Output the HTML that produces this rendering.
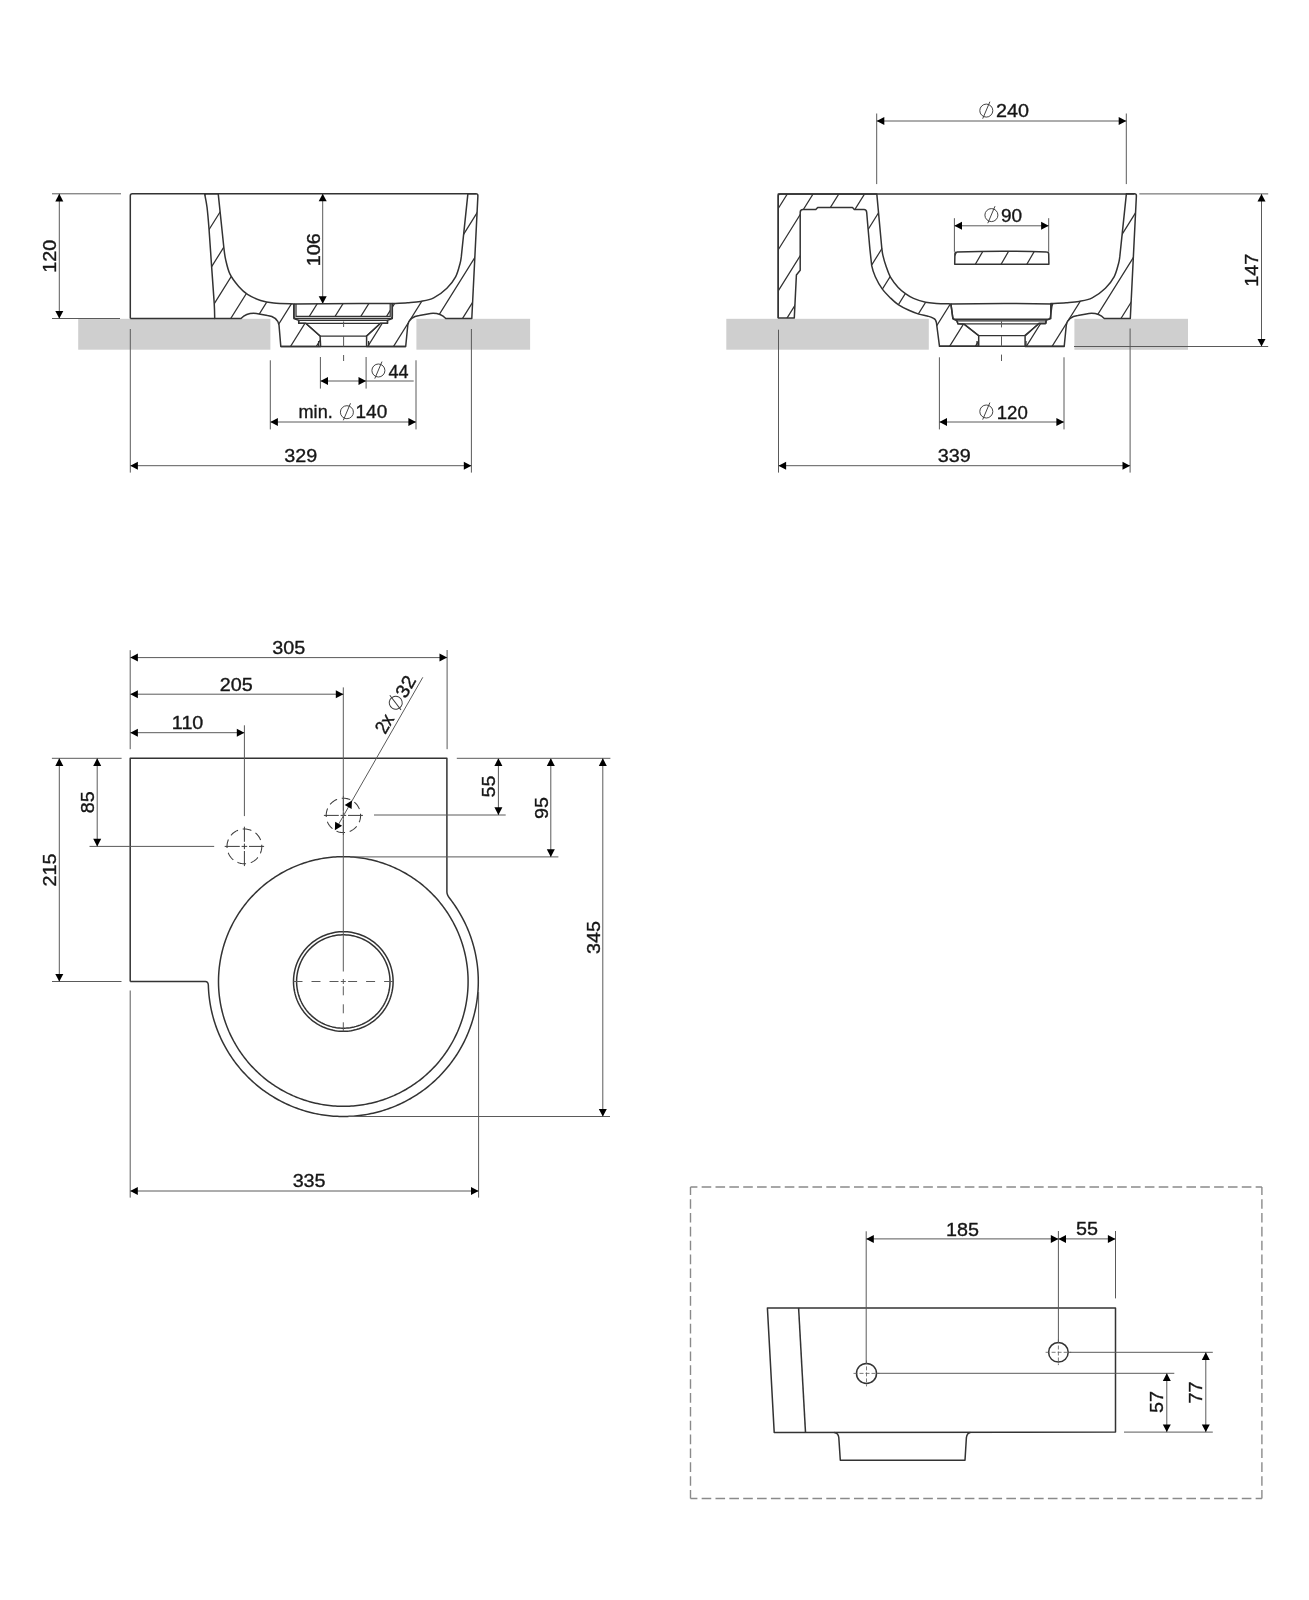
<!DOCTYPE html>
<html><head><meta charset="utf-8"><style>
html,body{margin:0;padding:0;background:#fff;}
svg{display:block;will-change:transform;}
text{font-family:"Liberation Sans",sans-serif;fill:#161616;stroke:#161616;stroke-width:0.35px;}
</style></head><body>
<svg width="1309" height="1600" viewBox="0 0 1309 1600">
<rect x="78.2" y="318.8" width="192.2" height="30.9" fill="#cfcfcf"/>
<rect x="416.4" y="318.8" width="113.7" height="30.9" fill="#cfcfcf"/>
<rect x="726.3" y="318.8" width="202.5" height="30.9" fill="#cfcfcf"/>
<rect x="1074.4" y="318.8" width="113.6" height="31" fill="#cfcfcf"/>
<clipPath id="c1"><path d="M204.6,193.7 L218.2,193.7 L223.9,248 C224.32,251.15 224.58,255.03 225.6,259.4 C226.62,263.77 227.82,269.68 230,274.2 C232.18,278.72 235.78,283.13 238.7,286.5 C241.62,289.87 243.85,292.07 247.5,294.4 C251.15,296.73 256.23,299.05 260.6,300.5 C264.97,301.95 268.15,302.52 273.7,303.1 C279.25,303.68 290.53,303.85 293.9,304 L293.9,318.5 L298.7,320.4 L298.7,323.3 L305.7,323.3 L320.1,336 L320.6,346.5 L280.8,346.5 L279,325 C277.5,318.5 273,316.2 267.5,315.6 L259,313.9 C252,312.5 246,313.5 241,318.5 L214.7,318.5 C214.62,315.93 214.72,311.78 214.2,303.1 C213.68,294.42 212.47,278.8 211.6,266.4 C210.73,254 209.77,238.6 209,228.7 C208.23,218.8 207.73,212.83 207,207 C206.27,201.17 205,195.92 204.6,193.7 Z"/></clipPath>
<g><path clip-path="url(#c1)" d="M156.55,190L56.55,350M182.3,190L82.3,350M208.05,190L108.05,350M233.8,190L133.8,350M259.55,190L159.55,350M285.3,190L185.3,350M311.05,190L211.05,350M336.8,190L236.8,350M362.55,190L262.55,350M388.3,190L288.3,350M414.05,190L314.05,350M439.8,190L339.8,350M465.55,190L365.55,350" stroke="#333" stroke-width="1.25" fill="none"/></g>
<clipPath id="c2"><path d="M392.3,303.6 L392.3,318.5 L387.5,320.4 L387.5,323.3 L380.5,323.3 L366.6,336 L366.6,346.5 L405.7,346.5 L407.8,325 C409.3,318.5 413.8,316.2 419.3,315.6 L427.8,313.9 C434.8,312.5 440.8,313.5 445.8,318.5 L471.8,318.5 L477.9,195.7 Q477.9,193.7 475.9,193.7 L467.9,193.7 L461.3,256.7 C460.96,259.07 460.95,260.33 460,263.7 C459.05,267.07 457.78,272.82 455.6,276.9 C453.42,280.98 450.55,284.7 446.9,288.2 C443.25,291.7 438.08,295.7 433.7,297.9 C429.32,300.1 424.97,300.6 420.6,301.4 C416.23,302.2 412.22,302.33 407.5,302.7 C402.78,303.07 394.83,303.45 392.3,303.6 Z"/></clipPath>
<g><path clip-path="url(#c2)" d="M311.05,190L211.05,350M336.8,190L236.8,350M362.55,190L262.55,350M388.3,190L288.3,350M414.05,190L314.05,350M439.8,190L339.8,350M465.55,190L365.55,350M491.3,190L391.3,350M517.05,190L417.05,350M542.8,190L442.8,350M568.55,190L468.55,350M594.3,190L494.3,350M620.05,190L520.05,350" stroke="#333" stroke-width="1.25" fill="none"/></g>
<clipPath id="c3"><path d="M296,303.6 L390.2,303.6 L390.2,316.4 L296,316.4 Z"/></clipPath>
<g><path clip-path="url(#c3)" d="M242.3,300L229.8,320M268.05,300L255.55,320M293.8,300L281.3,320M319.55,300L307.05,320M345.3,300L332.8,320M371.05,300L358.55,320M396.8,300L384.3,320M422.55,300L410.05,320M448.3,300L435.8,320" stroke="#333" stroke-width="1.25" fill="none"/></g>
<path d="M204.6,193.7 L218.2,193.7 L223.9,248 C224.32,251.15 224.58,255.03 225.6,259.4 C226.62,263.77 227.82,269.68 230,274.2 C232.18,278.72 235.78,283.13 238.7,286.5 C241.62,289.87 243.85,292.07 247.5,294.4 C251.15,296.73 256.23,299.05 260.6,300.5 C264.97,301.95 268.15,302.52 273.7,303.1 C279.25,303.68 290.53,303.85 293.9,304 L293.9,318.5 L298.7,320.4 L298.7,323.3 L305.7,323.3 L320.1,336 L320.6,346.5 L280.8,346.5 L279,325 C277.5,318.5 273,316.2 267.5,315.6 L259,313.9 C252,312.5 246,313.5 241,318.5 L214.7,318.5 C214.62,315.93 214.72,311.78 214.2,303.1 C213.68,294.42 212.47,278.8 211.6,266.4 C210.73,254 209.77,238.6 209,228.7 C208.23,218.8 207.73,212.83 207,207 C206.27,201.17 205,195.92 204.6,193.7 Z" stroke="#333" stroke-width="1.5" fill="none" stroke-linejoin="round"/>
<path d="M392.3,303.6 L392.3,318.5 L387.5,320.4 L387.5,323.3 L380.5,323.3 L366.6,336 L366.6,346.5 L405.7,346.5 L407.8,325 C409.3,318.5 413.8,316.2 419.3,315.6 L427.8,313.9 C434.8,312.5 440.8,313.5 445.8,318.5 L471.8,318.5 L477.9,195.7 Q477.9,193.7 475.9,193.7 L467.9,193.7 L461.3,256.7 C460.96,259.07 460.95,260.33 460,263.7 C459.05,267.07 457.78,272.82 455.6,276.9 C453.42,280.98 450.55,284.7 446.9,288.2 C443.25,291.7 438.08,295.7 433.7,297.9 C429.32,300.1 424.97,300.6 420.6,301.4 C416.23,302.2 412.22,302.33 407.5,302.7 C402.78,303.07 394.83,303.45 392.3,303.6 Z" stroke="#333" stroke-width="1.5" fill="none" stroke-linejoin="round"/>
<path d="M130.3,318.5 L130.3,195.7 Q130.3,193.7 132.3,193.7 L475.9,193.7" stroke="#333" stroke-width="1.5" fill="none" stroke-linejoin="round"/>
<line x1="130.3" y1="318.5" x2="215" y2="318.5" stroke="#333" stroke-width="1.5" fill="none" stroke-linejoin="round"/>
<path d="M293.9,304 C330,303.4 360,303.4 392.3,303.6" stroke="#333" stroke-width="1.5" fill="none" stroke-linejoin="round"/>
<path d="M293.9,304 L293.9,316.5 Q293.9,318.5 295.9,318.5 L390.3,318.5 Q392.3,318.5 392.3,316.5 L392.3,303.6" stroke="#333" stroke-width="1.5" fill="none" stroke-linejoin="round"/>
<path d="M296,304 L296,316.4 L390.2,316.4 L390.2,303.6" stroke="#333" stroke-width="1.25" fill="none"/>
<path d="M298.7,320.4 L387.5,320.4 L387.5,323.3 L298.7,323.3 Z" stroke="#333" stroke-width="1.25" fill="none"/>
<path d="M305.7,323.3 L320.1,336 L366.6,336 L380.5,323.3" stroke="#333" stroke-width="1.25" fill="none"/>
<path d="M318.6,341 L318.6,346.5 M368.6,341 L368.6,346.5" stroke="#333" stroke-width="1.25" fill="none"/>
<path d="M280.8,346.5 L405.7,346.5" stroke="#333" stroke-width="1.5" fill="none" stroke-linejoin="round"/>
<line x1="343.6" y1="321.5" x2="343.6" y2="327" stroke="#5a5a5a" stroke-width="1" fill="none"/>
<line x1="343.6" y1="336" x2="343.6" y2="346.5" stroke="#5a5a5a" stroke-width="1" fill="none"/>
<line x1="343.6" y1="355" x2="343.6" y2="361" stroke="#5a5a5a" stroke-width="1" fill="none"/>
<line x1="52" y1="193.8" x2="121" y2="193.8" stroke="#5a5a5a" stroke-width="1" fill="none"/>
<line x1="52" y1="318.5" x2="120" y2="318.5" stroke="#5a5a5a" stroke-width="1" fill="none"/>
<line x1="59.3" y1="193.8" x2="59.3" y2="318.5" stroke="#5a5a5a" stroke-width="1" fill="none"/>
<path d="M59.3,193.8 L63.3,201.4 L55.3,201.4 Z" fill="#000"/>
<path d="M59.3,318.5 L55.3,310.9 L63.3,310.9 Z" fill="#000"/>
<text transform="translate(56 256.3) rotate(-90) scale(1.04 1)" text-anchor="middle" font-size="19">120</text>
<line x1="322.7" y1="193.7" x2="322.7" y2="303.8" stroke="#5a5a5a" stroke-width="1" fill="none"/>
<path d="M322.7,193.7 L326.7,201.3 L318.7,201.3 Z" fill="#000"/>
<path d="M322.7,303.8 L318.7,296.2 L326.7,296.2 Z" fill="#000"/>
<text transform="translate(320 249.8) rotate(-90) scale(1.04 1)" text-anchor="middle" font-size="19">106</text>
<line x1="130.3" y1="329" x2="130.3" y2="472.6" stroke="#5a5a5a" stroke-width="1" fill="none"/>
<line x1="471.4" y1="329" x2="471.4" y2="472.6" stroke="#5a5a5a" stroke-width="1" fill="none"/>
<line x1="130.3" y1="465.7" x2="471.4" y2="465.7" stroke="#5a5a5a" stroke-width="1" fill="none"/>
<path d="M130.3,465.7 L137.9,461.7 L137.9,469.7 Z" fill="#000"/>
<path d="M471.4,465.7 L463.8,469.7 L463.8,461.7 Z" fill="#000"/>
<text transform="translate(300.7 461.6) rotate(0) scale(1.04 1)" text-anchor="middle" font-size="19">329</text>
<line x1="270.3" y1="360.3" x2="270.3" y2="429.4" stroke="#5a5a5a" stroke-width="1" fill="none"/>
<line x1="416" y1="360.3" x2="416" y2="429.4" stroke="#5a5a5a" stroke-width="1" fill="none"/>
<line x1="270.3" y1="422" x2="416" y2="422" stroke="#5a5a5a" stroke-width="1" fill="none"/>
<path d="M270.3,422 L277.9,418 L277.9,426 Z" fill="#000"/>
<path d="M416,422 L408.4,426 L408.4,418 Z" fill="#000"/>
<text transform="translate(298.6 418.4) rotate(0) scale(0.95 1)" text-anchor="start" font-size="19">min.</text>
<g transform="translate(346.9 412.2) rotate(0)"><circle cx="0" cy="0" r="6.5" stroke="#3a3a3a" stroke-width="0.95" fill="none"/><line x1="3.6" y1="-8.9" x2="-3.6" y2="8.1" stroke="#3a3a3a" stroke-width="0.95"/></g>
<text transform="translate(355.5 418.4) rotate(0) scale(1.0 1)" text-anchor="start" font-size="19">140</text>
<line x1="320.4" y1="357" x2="320.4" y2="388.6" stroke="#5a5a5a" stroke-width="1" fill="none"/>
<line x1="366.1" y1="357" x2="366.1" y2="388.6" stroke="#5a5a5a" stroke-width="1" fill="none"/>
<line x1="320.4" y1="381" x2="366.1" y2="381" stroke="#5a5a5a" stroke-width="1" fill="none"/>
<path d="M320.4,381 L328,377 L328,385 Z" fill="#000"/>
<path d="M366.1,381 L358.5,385 L358.5,377 Z" fill="#000"/>
<line x1="366.1" y1="381" x2="413.7" y2="381" stroke="#5a5a5a" stroke-width="1" fill="none"/>
<g transform="translate(378.4 370.5) rotate(0)"><circle cx="0" cy="0" r="6.5" stroke="#3a3a3a" stroke-width="0.95" fill="none"/><line x1="3.6" y1="-8.9" x2="-3.6" y2="8.1" stroke="#3a3a3a" stroke-width="0.95"/></g>
<text transform="translate(388.5 377.5) rotate(0) scale(0.95 1)" text-anchor="start" font-size="19">44</text>
<clipPath id="c4"><path d="M778.25,193.9 L876.8,193.9 L881.8,248.2 C882.1,250.58 882.2,252.33 882.9,255.3 C883.6,258.27 884.72,262.32 886,266 C887.28,269.68 888.57,273.83 890.6,277.4 C892.63,280.97 895.67,284.65 898.2,287.4 C900.73,290.15 903.25,292.07 905.8,293.9 C908.35,295.73 910.18,297 913.5,298.4 C916.82,299.8 921.88,301.47 925.7,302.3 C929.52,303.13 932.2,303.13 936.4,303.4 C940.6,303.67 948.48,303.82 950.9,303.9 L952.9,318.8 L956.9,320.8 L957.9,323.8 L964.3,324.3 L978.7,335.7 L978.7,346.3 L939.5,346.3 L936.4,322.5 C935.25,317.77 934.13,318.98 932.6,317.9 C931.07,316.82 929.5,316.63 927.2,316 C924.9,315.37 921.85,315.05 918.8,314.1 C915.75,313.15 912.33,311.88 908.9,310.3 C905.47,308.72 901.25,306.63 898.2,304.6 C895.15,302.57 893.27,300.72 890.6,298.1 C887.93,295.48 884.75,292.47 882.2,288.9 C879.65,285.33 877.05,280.57 875.3,276.7 C873.55,272.83 872.6,270.28 871.7,265.7 L869.9,249.2 L868.1,229 L866.7,212.5 Q866.5,209.6 864,209.6 L854.3,209.4 L852.5,207.5 L817.7,207.5 L815.8,209.6 L803,209.6 Q800.2,209.6 800.2,212.5 L800.2,270.2 L796.4,275 L794.3,317.9 L778.25,317.9 Z"/></clipPath>
<g><path clip-path="url(#c4)" d="M738.3,190L638.3,350M764.05,190L664.05,350M789.8,190L689.8,350M815.55,190L715.55,350M841.3,190L741.3,350M867.05,190L767.05,350M892.8,190L792.8,350M918.55,190L818.55,350M944.3,190L844.3,350M970.05,190L870.05,350M995.8,190L895.8,350M1021.55,190L921.55,350M1047.3,190L947.3,350M1073.05,190L973.05,350M1098.8,190L998.8,350M1124.55,190L1024.55,350" stroke="#333" stroke-width="1.25" fill="none"/></g>
<clipPath id="c5"><path d="M392.3,303.6 L392.3,318.5 L387.5,320.4 L387.5,323.3 L380.5,323.3 L366.6,336 L366.6,346.5 L405.7,346.5 L407.8,325 C409.3,318.5 413.8,316.2 419.3,315.6 L427.8,313.9 C434.8,312.5 440.8,313.5 445.8,318.5 L471.8,318.5 L477.9,195.7 Q477.9,193.7 475.9,193.7 L467.9,193.7 L461.3,256.7 C460.96,259.07 460.95,260.33 460,263.7 C459.05,267.07 457.78,272.82 455.6,276.9 C453.42,280.98 450.55,284.7 446.9,288.2 C443.25,291.7 438.08,295.7 433.7,297.9 C429.32,300.1 424.97,300.6 420.6,301.4 C416.23,302.2 412.22,302.33 407.5,302.7 C402.78,303.07 394.83,303.45 392.3,303.6 Z"/></clipPath>
<g transform="translate(658.5 0)"><path clip-path="url(#c5)" d="M311.05,190L211.05,350M336.8,190L236.8,350M362.55,190L262.55,350M388.3,190L288.3,350M414.05,190L314.05,350M439.8,190L339.8,350M465.55,190L365.55,350M491.3,190L391.3,350M517.05,190L417.05,350M542.8,190L442.8,350M568.55,190L468.55,350M594.3,190L494.3,350M620.05,190L520.05,350" stroke="#333" stroke-width="1.25" fill="none"/></g>
<clipPath id="c6"><path d="M954.9,254 Q954.9,251.9 957,251.9 Q1001.5,250.6 1046.6,251.9 Q1048.7,251.9 1048.7,254 L1048.9,264.3 L954.7,264.3 Z"/></clipPath>
<g><path clip-path="url(#c6)" d="M907.5,248L895.94,268M933.25,248L921.69,268M959,248L947.44,268M984.75,248L973.19,268M1010.5,248L998.94,268M1036.25,248L1024.69,268M1062,248L1050.44,268M1087.75,248L1076.19,268" stroke="#333" stroke-width="1.25" fill="none"/></g>
<path d="M778.25,193.9 L876.8,193.9 L881.8,248.2 C882.1,250.58 882.2,252.33 882.9,255.3 C883.6,258.27 884.72,262.32 886,266 C887.28,269.68 888.57,273.83 890.6,277.4 C892.63,280.97 895.67,284.65 898.2,287.4 C900.73,290.15 903.25,292.07 905.8,293.9 C908.35,295.73 910.18,297 913.5,298.4 C916.82,299.8 921.88,301.47 925.7,302.3 C929.52,303.13 932.2,303.13 936.4,303.4 C940.6,303.67 948.48,303.82 950.9,303.9 L952.9,318.8 L956.9,320.8 L957.9,323.8 L964.3,324.3 L978.7,335.7 L978.7,346.3 L939.5,346.3 L936.4,322.5 C935.25,317.77 934.13,318.98 932.6,317.9 C931.07,316.82 929.5,316.63 927.2,316 C924.9,315.37 921.85,315.05 918.8,314.1 C915.75,313.15 912.33,311.88 908.9,310.3 C905.47,308.72 901.25,306.63 898.2,304.6 C895.15,302.57 893.27,300.72 890.6,298.1 C887.93,295.48 884.75,292.47 882.2,288.9 C879.65,285.33 877.05,280.57 875.3,276.7 C873.55,272.83 872.6,270.28 871.7,265.7 L869.9,249.2 L868.1,229 L866.7,212.5 Q866.5,209.6 864,209.6 L854.3,209.4 L852.5,207.5 L817.7,207.5 L815.8,209.6 L803,209.6 Q800.2,209.6 800.2,212.5 L800.2,270.2 L796.4,275 L794.3,317.9 L778.25,317.9 Z" stroke="#333" stroke-width="1.5" fill="none" stroke-linejoin="round"/>
<path d="M392.3,303.6 L392.3,318.5 L387.5,320.4 L387.5,323.3 L380.5,323.3 L366.6,336 L366.6,346.5 L405.7,346.5 L407.8,325 C409.3,318.5 413.8,316.2 419.3,315.6 L427.8,313.9 C434.8,312.5 440.8,313.5 445.8,318.5 L471.8,318.5 L477.9,195.7 Q477.9,193.7 475.9,193.7 L467.9,193.7 L461.3,256.7 C460.96,259.07 460.95,260.33 460,263.7 C459.05,267.07 457.78,272.82 455.6,276.9 C453.42,280.98 450.55,284.7 446.9,288.2 C443.25,291.7 438.08,295.7 433.7,297.9 C429.32,300.1 424.97,300.6 420.6,301.4 C416.23,302.2 412.22,302.33 407.5,302.7 C402.78,303.07 394.83,303.45 392.3,303.6 Z" stroke="#333" stroke-width="1.5" fill="none" stroke-linejoin="round" transform="translate(658.5 0)"/>
<path d="M954.9,254 Q954.9,251.9 957,251.9 Q1001.5,250.6 1046.6,251.9 Q1048.7,251.9 1048.7,254 L1048.9,264.3 L954.7,264.3 Z" stroke="#333" stroke-width="1.5" fill="none" stroke-linejoin="round"/>
<path d="M778.25,317.9 L778.25,195.9 Q778.25,193.9 780.25,193.9 L1134.4,193.9" stroke="#333" stroke-width="1.5" fill="none" stroke-linejoin="round"/>
<path d="M950.9,303.9 C990,303.4 1020,303.4 1052.2,303.9" stroke="#333" stroke-width="1.5" fill="none" stroke-linejoin="round"/>
<path d="M950.9,303.9 L952.7,317 Q953,319.3 955,319.3 L1048.3,319.3 Q1050.2,319.3 1050.4,317 L1052.2,303.9" stroke="#333" stroke-width="1.5" fill="none" stroke-linejoin="round"/>
<path d="M956.9,320.8 L1046.3,320.8 L1045.3,323.8 L957.9,323.8 Z" stroke="#333" stroke-width="1.25" fill="none"/>
<path d="M964.3,324.3 L978.7,335.7 L1024.4,335.7 L1038.3,324.3" stroke="#333" stroke-width="1.25" fill="none"/>
<path d="M977,341 L977,346.3 M1026,341 L1026,346.3" stroke="#333" stroke-width="1.25" fill="none"/>
<path d="M939.5,346.3 L1064.2,346.3" stroke="#333" stroke-width="1.5" fill="none" stroke-linejoin="round"/>
<line x1="1001.5" y1="321.3" x2="1001.5" y2="327.4" stroke="#5a5a5a" stroke-width="1" fill="none"/>
<line x1="1001.5" y1="336.2" x2="1001.5" y2="346.3" stroke="#5a5a5a" stroke-width="1" fill="none"/>
<line x1="1001.5" y1="354.6" x2="1001.5" y2="361" stroke="#5a5a5a" stroke-width="1" fill="none"/>
<line x1="876.7" y1="113.5" x2="876.7" y2="184.1" stroke="#5a5a5a" stroke-width="1" fill="none"/>
<line x1="1126.3" y1="113.5" x2="1126.3" y2="184.1" stroke="#5a5a5a" stroke-width="1" fill="none"/>
<line x1="876.7" y1="121" x2="1126.3" y2="121" stroke="#5a5a5a" stroke-width="1" fill="none"/>
<path d="M876.7,121 L884.3,117 L884.3,125 Z" fill="#000"/>
<path d="M1126.3,121 L1118.7,125 L1118.7,117 Z" fill="#000"/>
<g transform="translate(986.3 110.6) rotate(0)"><circle cx="0" cy="0" r="6.5" stroke="#3a3a3a" stroke-width="0.95" fill="none"/><line x1="3.6" y1="-8.9" x2="-3.6" y2="8.1" stroke="#3a3a3a" stroke-width="0.95"/></g>
<text transform="translate(996 116.7) rotate(0) scale(1.04 1)" text-anchor="start" font-size="19">240</text>
<line x1="954.4" y1="218.2" x2="954.4" y2="251.8" stroke="#5a5a5a" stroke-width="1" fill="none"/>
<line x1="1048.7" y1="218.2" x2="1048.7" y2="251.8" stroke="#5a5a5a" stroke-width="1" fill="none"/>
<line x1="954.4" y1="225.8" x2="1048.7" y2="225.8" stroke="#5a5a5a" stroke-width="1" fill="none"/>
<path d="M954.4,225.8 L962,221.8 L962,229.8 Z" fill="#000"/>
<path d="M1048.7,225.8 L1041.1,229.8 L1041.1,221.8 Z" fill="#000"/>
<g transform="translate(991.4 215.1) rotate(0)"><circle cx="0" cy="0" r="6.5" stroke="#3a3a3a" stroke-width="0.95" fill="none"/><line x1="3.6" y1="-8.9" x2="-3.6" y2="8.1" stroke="#3a3a3a" stroke-width="0.95"/></g>
<text transform="translate(1001 222.1) rotate(0) scale(1.0 1)" text-anchor="start" font-size="19">90</text>
<line x1="1139.3" y1="193.9" x2="1268.2" y2="193.9" stroke="#5a5a5a" stroke-width="1" fill="none"/>
<line x1="1074" y1="346.5" x2="1268.2" y2="346.5" stroke="#5a5a5a" stroke-width="1" fill="none"/>
<line x1="1261.5" y1="193.9" x2="1261.5" y2="346.5" stroke="#5a5a5a" stroke-width="1" fill="none"/>
<path d="M1261.5,193.9 L1265.5,201.5 L1257.5,201.5 Z" fill="#000"/>
<path d="M1261.5,346.5 L1257.5,338.9 L1265.5,338.9 Z" fill="#000"/>
<text transform="translate(1258 270.3) rotate(-90) scale(1.04 1)" text-anchor="middle" font-size="19">147</text>
<line x1="939.4" y1="357.3" x2="939.4" y2="429.4" stroke="#5a5a5a" stroke-width="1" fill="none"/>
<line x1="1064" y1="357.3" x2="1064" y2="429.4" stroke="#5a5a5a" stroke-width="1" fill="none"/>
<line x1="939.4" y1="422" x2="1064" y2="422" stroke="#5a5a5a" stroke-width="1" fill="none"/>
<path d="M939.4,422 L947,418 L947,426 Z" fill="#000"/>
<path d="M1064,422 L1056.4,426 L1056.4,418 Z" fill="#000"/>
<g transform="translate(986.3 411.5) rotate(0)"><circle cx="0" cy="0" r="6.5" stroke="#3a3a3a" stroke-width="0.95" fill="none"/><line x1="3.6" y1="-8.9" x2="-3.6" y2="8.1" stroke="#3a3a3a" stroke-width="0.95"/></g>
<text transform="translate(996.7 418.6) rotate(0) scale(0.98 1)" text-anchor="start" font-size="19">120</text>
<line x1="778.5" y1="329.7" x2="778.5" y2="472.6" stroke="#5a5a5a" stroke-width="1" fill="none"/>
<line x1="1130.1" y1="328.5" x2="1130.1" y2="472.6" stroke="#5a5a5a" stroke-width="1" fill="none"/>
<line x1="778.5" y1="465.7" x2="1130.1" y2="465.7" stroke="#5a5a5a" stroke-width="1" fill="none"/>
<path d="M778.5,465.7 L786.1,461.7 L786.1,469.7 Z" fill="#000"/>
<path d="M1130.1,465.7 L1122.5,469.7 L1122.5,461.7 Z" fill="#000"/>
<text transform="translate(954.3 461.6) rotate(0) scale(1.04 1)" text-anchor="middle" font-size="19">339</text>
<path d="M130.2,981.5 L130.2,758.3 L446.9,758.3 L446.9,891.94 Q446.9,894.94 450.58,899.54 L451.78,901.14 L452.96,902.76 L454.11,904.39 L455.24,906.04 L456.35,907.71 L457.43,909.4 L458.49,911.09 L459.52,912.81 L460.52,914.54 L461.5,916.28 L462.46,918.04 L463.38,919.82 L464.28,921.6 L465.16,923.4 L466.01,925.21 L466.83,927.04 L467.62,928.87 L468.39,930.72 L469.13,932.58 L469.84,934.45 L470.52,936.33 L471.18,938.22 L471.8,940.12 L472.4,942.03 L472.97,943.95 L473.51,945.87 L474.03,947.81 L474.51,949.75 L474.97,951.7 L475.4,953.65 L475.79,955.61 L476.16,957.58 L476.5,959.55 L476.81,961.53 L477.1,963.51 L477.35,965.49 L477.57,967.48 L477.76,969.47 L477.93,971.47 L478.06,973.46 L478.16,975.46 L478.24,977.46 L478.28,979.46 L478.3,981.46 L478.29,983.46 L478.24,985.46 L478.17,987.46 L478.07,989.46 L477.93,991.46 L477.77,993.45 L477.58,995.44 L477.36,997.43 L477.11,999.41 L476.83,1001.39 L476.52,1003.37 L476.18,1005.34 L475.81,1007.31 L475.41,1009.27 L474.99,1011.23 L474.53,1013.17 L474.05,1015.12 L473.54,1017.05 L472.99,1018.98 L472.42,1020.89 L471.83,1022.8 L471.2,1024.7 L470.55,1026.59 L469.86,1028.47 L469.15,1030.34 L468.42,1032.2 L467.65,1034.05 L466.86,1035.89 L466.04,1037.71 L465.19,1039.53 L464.32,1041.33 L463.42,1043.11 L462.49,1044.89 L461.54,1046.65 L460.56,1048.39 L459.56,1050.12 L458.53,1051.84 L457.47,1053.54 L456.39,1055.22 L455.29,1056.89 L454.16,1058.54 L453,1060.18 L451.83,1061.79 L450.62,1063.39 L449.4,1064.97 L448.15,1066.54 L446.88,1068.08 L445.58,1069.61 L444.27,1071.11 L442.93,1072.6 L441.57,1074.07 L440.18,1075.51 L438.78,1076.94 L437.36,1078.34 L435.91,1079.73 L434.44,1081.09 L432.96,1082.43 L431.45,1083.74 L429.93,1085.04 L428.38,1086.31 L426.82,1087.56 L425.24,1088.79 L423.64,1089.99 L422.03,1091.17 L420.39,1092.32 L418.74,1093.45 L417.07,1094.56 L415.39,1095.64 L413.69,1096.7 L411.98,1097.73 L410.25,1098.73 L408.5,1099.71 L406.74,1100.66 L404.97,1101.59 L403.18,1102.49 L401.38,1103.37 L399.57,1104.21 L397.75,1105.03 L395.91,1105.83 L394.06,1106.59 L392.2,1107.33 L390.33,1108.04 L388.45,1108.73 L386.56,1109.38 L384.66,1110.01 L382.75,1110.61 L380.83,1111.18 L378.91,1111.72 L376.97,1112.23 L375.03,1112.72 L373.09,1113.17 L371.13,1113.6 L369.17,1114 L367.2,1114.37 L365.23,1114.71 L363.26,1115.02 L361.27,1115.3 L359.29,1115.55 L357.3,1115.77 L355.31,1115.96 L353.32,1116.13 L351.32,1116.26 L349.32,1116.37 L347.32,1116.44 L345.32,1116.48 L343.32,1116.5 L341.32,1116.49 L339.32,1116.44 L337.32,1116.37 L335.32,1116.26 L333.33,1116.13 L331.33,1115.97 L329.34,1115.78 L327.35,1115.55 L325.37,1115.3 L323.39,1115.02 L321.41,1114.71 L319.44,1114.37 L317.47,1114.01 L315.51,1113.61 L313.56,1113.18 L311.61,1112.73 L309.67,1112.24 L307.73,1111.73 L305.81,1111.19 L303.89,1110.62 L301.98,1110.02 L300.08,1109.39 L298.19,1108.74 L296.31,1108.06 L294.44,1107.35 L292.58,1106.61 L290.73,1105.84 L288.89,1105.05 L287.07,1104.23 L285.26,1103.38 L283.46,1102.51 L281.67,1101.61 L279.9,1100.68 L278.14,1099.73 L276.39,1098.75 L274.66,1097.75 L272.95,1096.72 L271.25,1095.66 L269.56,1094.58 L267.9,1093.48 L266.24,1092.35 L264.61,1091.19 L262.99,1090.02 L261.39,1088.81 L259.81,1087.59 L258.25,1086.34 L256.7,1085.07 L255.18,1083.77 L253.67,1082.46 L252.19,1081.12 L250.72,1079.76 L249.28,1078.37 L247.85,1076.97 L246.45,1075.54 L245.06,1074.1 L243.7,1072.63 L242.36,1071.15 L241.04,1069.64 L239.75,1068.12 L238.48,1066.57 L237.23,1065.01 L236,1063.43 L234.8,1061.83 L233.62,1060.21 L232.47,1058.58 L231.34,1056.93 L230.23,1055.26 L229.15,1053.57 L228.09,1051.88 L227.06,1050.16 L226.06,1048.43 L225.08,1046.69 L224.13,1044.93 L223.2,1043.15 L222.3,1041.37 L221.43,1039.57 L220.58,1037.75 L219.76,1035.93 L218.97,1034.09 L218.2,1032.24 L217.46,1030.39 L216.75,1028.51 L216.07,1026.63 L215.41,1024.74 L214.79,1022.84 L214.19,1020.93 L213.62,1019.02 L213.08,1017.09 L212.56,1015.16 L212.08,1013.22 L211.62,1011.27 L211.2,1009.31 L210.8,1007.35 L210.43,1005.39 L210.09,1003.41 L209.78,1001.44 L209.5,999.46 L209.25,997.47 L209.03,995.48 L208.83,993.49 L208.67,991.5 L208.54,989.5 L208.43,987.5 L208.36,985.5 Q208.3,981.5 205.3,981.5 L130.2,981.5" stroke="#333" stroke-width="1.5" fill="none" stroke-linejoin="round"/>
<path d="M468.1,981.5 L468.08,983.5 L468.04,985.5 L467.96,987.5 L467.84,989.5 L467.7,991.49 L467.52,993.48 L467.32,995.47 L467.08,997.46 L466.8,999.44 L466.5,1001.42 L466.17,1003.39 L465.8,1005.36 L465.4,1007.32 L464.97,1009.27 L464.51,1011.22 L464.02,1013.16 L463.5,1015.09 L462.94,1017.01 L462.36,1018.92 L461.74,1020.83 L461.1,1022.72 L460.42,1024.6 L459.71,1026.47 L458.98,1028.33 L458.21,1030.18 L457.42,1032.02 L456.59,1033.84 L455.74,1035.65 L454.86,1037.44 L453.95,1039.22 L453.01,1040.99 L452.04,1042.74 L451.05,1044.48 L450.02,1046.2 L448.97,1047.9 L447.89,1049.58 L446.79,1051.25 L445.66,1052.9 L444.5,1054.53 L443.32,1056.14 L442.11,1057.74 L440.87,1059.31 L439.61,1060.87 L438.33,1062.4 L437.02,1063.91 L435.69,1065.4 L434.33,1066.87 L432.95,1068.32 L431.55,1069.75 L430.12,1071.15 L428.67,1072.53 L427.2,1073.89 L425.71,1075.22 L424.2,1076.53 L422.67,1077.81 L421.11,1079.07 L419.54,1080.31 L417.94,1081.52 L416.33,1082.7 L414.7,1083.86 L413.05,1084.99 L411.38,1086.09 L409.7,1087.17 L408,1088.22 L406.28,1089.25 L404.54,1090.24 L402.79,1091.21 L401.02,1092.15 L399.24,1093.06 L397.45,1093.94 L395.64,1094.79 L393.82,1095.62 L391.98,1096.41 L390.13,1097.18 L388.27,1097.91 L386.4,1098.62 L384.52,1099.3 L382.63,1099.94 L380.72,1100.56 L378.81,1101.14 L376.89,1101.7 L374.96,1102.22 L373.02,1102.71 L371.07,1103.17 L369.12,1103.6 L367.16,1104 L365.19,1104.37 L363.22,1104.7 L361.24,1105 L359.26,1105.28 L357.27,1105.52 L355.28,1105.72 L353.29,1105.9 L351.3,1106.04 L349.3,1106.16 L347.3,1106.24 L345.3,1106.28 L343.3,1106.3 L341.3,1106.28 L339.3,1106.24 L337.3,1106.16 L335.3,1106.04 L333.31,1105.9 L331.32,1105.72 L329.33,1105.52 L327.34,1105.28 L325.36,1105 L323.38,1104.7 L321.41,1104.37 L319.44,1104 L317.48,1103.6 L315.53,1103.17 L313.58,1102.71 L311.64,1102.22 L309.71,1101.7 L307.79,1101.14 L305.88,1100.56 L303.97,1099.94 L302.08,1099.3 L300.2,1098.62 L298.33,1097.91 L296.47,1097.18 L294.62,1096.41 L292.78,1095.62 L290.96,1094.79 L289.15,1093.94 L287.36,1093.06 L285.58,1092.15 L283.81,1091.21 L282.06,1090.24 L280.32,1089.25 L278.6,1088.22 L276.9,1087.17 L275.22,1086.09 L273.55,1084.99 L271.9,1083.86 L270.27,1082.7 L268.66,1081.52 L267.06,1080.31 L265.49,1079.07 L263.93,1077.81 L262.4,1076.53 L260.89,1075.22 L259.4,1073.89 L257.93,1072.53 L256.48,1071.15 L255.05,1069.75 L253.65,1068.32 L252.27,1066.87 L250.91,1065.4 L249.58,1063.91 L248.27,1062.4 L246.99,1060.87 L245.73,1059.31 L244.49,1057.74 L243.28,1056.14 L242.1,1054.53 L240.94,1052.9 L239.81,1051.25 L238.71,1049.58 L237.63,1047.9 L236.58,1046.2 L235.55,1044.48 L234.56,1042.74 L233.59,1040.99 L232.65,1039.22 L231.74,1037.44 L230.86,1035.65 L230.01,1033.84 L229.18,1032.02 L228.39,1030.18 L227.62,1028.33 L226.89,1026.47 L226.18,1024.6 L225.5,1022.72 L224.86,1020.83 L224.24,1018.92 L223.66,1017.01 L223.1,1015.09 L222.58,1013.16 L222.09,1011.22 L221.63,1009.27 L221.2,1007.32 L220.8,1005.36 L220.43,1003.39 L220.1,1001.42 L219.8,999.44 L219.52,997.46 L219.28,995.47 L219.08,993.48 L218.9,991.49 L218.76,989.5 L218.64,987.5 L218.56,985.5 L218.52,983.5 L218.5,981.5 L218.52,979.5 L218.56,977.5 L218.64,975.5 L218.76,973.5 L218.9,971.51 L219.08,969.52 L219.28,967.53 L219.52,965.54 L219.8,963.56 L220.1,961.58 L220.43,959.61 L220.8,957.64 L221.2,955.68 L221.63,953.73 L222.09,951.78 L222.58,949.84 L223.1,947.91 L223.66,945.99 L224.24,944.08 L224.86,942.17 L225.5,940.28 L226.18,938.4 L226.89,936.53 L227.62,934.67 L228.39,932.82 L229.18,930.98 L230.01,929.16 L230.86,927.35 L231.74,925.56 L232.65,923.78 L233.59,922.01 L234.56,920.26 L235.55,918.52 L236.58,916.8 L237.63,915.1 L238.71,913.42 L239.81,911.75 L240.94,910.1 L242.1,908.47 L243.28,906.86 L244.49,905.26 L245.73,903.69 L246.99,902.13 L248.27,900.6 L249.58,899.09 L250.91,897.6 L252.27,896.13 L253.65,894.68 L255.05,893.25 L256.48,891.85 L257.93,890.47 L259.4,889.11 L260.89,887.78 L262.4,886.47 L263.93,885.19 L265.49,883.93 L267.06,882.69 L268.66,881.48 L270.27,880.3 L271.9,879.14 L273.55,878.01 L275.22,876.91 L276.9,875.83 L278.6,874.78 L280.32,873.75 L282.06,872.76 L283.81,871.79 L285.58,870.85 L287.36,869.94 L289.15,869.06 L290.96,868.21 L292.78,867.38 L294.62,866.59 L296.47,865.82 L298.33,865.09 L300.2,864.38 L302.08,863.7 L303.97,863.06 L305.88,862.44 L307.79,861.86 L309.71,861.3 L311.64,860.78 L313.58,860.29 L315.53,859.83 L317.48,859.4 L319.44,859 L321.41,858.63 L323.38,858.3 L325.36,858 L327.34,857.72 L329.33,857.48 L331.32,857.28 L333.31,857.1 L335.3,856.96 L337.3,856.84 L339.3,856.76 L341.3,856.72 L343.3,856.7 L345.3,856.72 L347.3,856.76 L349.3,856.84 L351.3,856.96 L353.29,857.1 L355.28,857.28 L357.27,857.48 L359.26,857.72 L361.24,858 L363.22,858.3 L365.19,858.63 L367.16,859 L369.12,859.4 L371.07,859.83 L373.02,860.29 L374.96,860.78 L376.89,861.3 L378.81,861.86 L380.72,862.44 L382.63,863.06 L384.52,863.7 L386.4,864.38 L388.27,865.09 L390.13,865.82 L391.98,866.59 L393.82,867.38 L395.64,868.21 L397.45,869.06 L399.24,869.94 L401.02,870.85 L402.79,871.79 L404.54,872.76 L406.28,873.75 L408,874.78 L409.7,875.83 L411.38,876.91 L413.05,878.01 L414.7,879.14 L416.33,880.3 L417.94,881.48 L419.54,882.69 L421.11,883.93 L422.67,885.19 L424.2,886.47 L425.71,887.78 L427.2,889.11 L428.67,890.47 L430.12,891.85 L431.55,893.25 L432.95,894.68 L434.33,896.13 L435.69,897.6 L437.02,899.09 L438.33,900.6 L439.61,902.13 L440.87,903.69 L442.11,905.26 L443.32,906.86 L444.5,908.47 L445.66,910.1 L446.79,911.75 L447.89,913.42 L448.97,915.1 L450.02,916.8 L451.05,918.52 L452.04,920.26 L453.01,922.01 L453.95,923.78 L454.86,925.56 L455.74,927.35 L456.59,929.16 L457.42,930.98 L458.21,932.82 L458.98,934.67 L459.71,936.53 L460.42,938.4 L461.1,940.28 L461.74,942.17 L462.36,944.08 L462.94,945.99 L463.5,947.91 L464.02,949.84 L464.51,951.78 L464.97,953.73 L465.4,955.68 L465.8,957.64 L466.17,959.61 L466.5,961.58 L466.8,963.56 L467.08,965.54 L467.32,967.53 L467.52,969.52 L467.7,971.51 L467.84,973.5 L467.96,975.5 L468.04,977.5 L468.08,979.5 Z" stroke="#333" stroke-width="1.5" fill="none" stroke-linejoin="round"/>
<path d="M393.1,981.5 L393.06,983.51 L392.94,985.51 L392.74,987.5 L392.46,989.49 L392.09,991.46 L391.65,993.42 L391.13,995.36 L390.54,997.27 L389.86,999.16 L389.11,1001.02 L388.29,1002.85 L387.4,1004.64 L386.43,1006.4 L385.39,1008.12 L384.28,1009.79 L383.11,1011.42 L381.88,1013 L380.58,1014.52 L379.22,1016 L377.8,1017.42 L376.32,1018.78 L374.8,1020.08 L373.22,1021.31 L371.59,1022.48 L369.92,1023.59 L368.2,1024.63 L366.44,1025.6 L364.65,1026.49 L362.82,1027.31 L360.96,1028.06 L359.07,1028.74 L357.16,1029.33 L355.22,1029.85 L353.26,1030.29 L351.29,1030.66 L349.3,1030.94 L347.31,1031.14 L345.31,1031.26 L343.3,1031.3 L341.29,1031.26 L339.29,1031.14 L337.3,1030.94 L335.31,1030.66 L333.34,1030.29 L331.38,1029.85 L329.44,1029.33 L327.53,1028.74 L325.64,1028.06 L323.78,1027.31 L321.95,1026.49 L320.16,1025.6 L318.4,1024.63 L316.68,1023.59 L315.01,1022.48 L313.38,1021.31 L311.8,1020.08 L310.28,1018.78 L308.8,1017.42 L307.38,1016 L306.02,1014.52 L304.72,1013 L303.49,1011.42 L302.32,1009.79 L301.21,1008.12 L300.17,1006.4 L299.2,1004.64 L298.31,1002.85 L297.49,1001.02 L296.74,999.16 L296.06,997.27 L295.47,995.36 L294.95,993.42 L294.51,991.46 L294.14,989.49 L293.86,987.5 L293.66,985.51 L293.54,983.51 L293.5,981.5 L293.54,979.49 L293.66,977.49 L293.86,975.5 L294.14,973.51 L294.51,971.54 L294.95,969.58 L295.47,967.64 L296.06,965.73 L296.74,963.84 L297.49,961.98 L298.31,960.15 L299.2,958.36 L300.17,956.6 L301.21,954.88 L302.32,953.21 L303.49,951.58 L304.72,950 L306.02,948.48 L307.38,947 L308.8,945.58 L310.28,944.22 L311.8,942.92 L313.38,941.69 L315.01,940.52 L316.68,939.41 L318.4,938.37 L320.16,937.4 L321.95,936.51 L323.78,935.69 L325.64,934.94 L327.53,934.26 L329.44,933.67 L331.38,933.15 L333.34,932.71 L335.31,932.34 L337.3,932.06 L339.29,931.86 L341.29,931.74 L343.3,931.7 L345.31,931.74 L347.31,931.86 L349.3,932.06 L351.29,932.34 L353.26,932.71 L355.22,933.15 L357.16,933.67 L359.07,934.26 L360.96,934.94 L362.82,935.69 L364.65,936.51 L366.44,937.4 L368.2,938.37 L369.92,939.41 L371.59,940.52 L373.22,941.69 L374.8,942.92 L376.32,944.22 L377.8,945.58 L379.22,947 L380.58,948.48 L381.88,950 L383.11,951.58 L384.28,953.21 L385.39,954.88 L386.43,956.6 L387.4,958.36 L388.29,960.15 L389.11,961.98 L389.86,963.84 L390.54,965.73 L391.13,967.64 L391.65,969.58 L392.09,971.54 L392.46,973.51 L392.74,975.5 L392.94,977.49 L393.06,979.49 Z" stroke="#333" stroke-width="1.5" fill="none" stroke-linejoin="round"/>
<path d="M390,981.5 L389.96,983.51 L389.83,985.51 L389.61,987.51 L389.31,989.5 L388.92,991.47 L388.45,993.42 L387.9,995.36 L387.26,997.26 L386.54,999.14 L385.74,1000.98 L384.86,1002.79 L383.91,1004.56 L382.88,1006.29 L381.78,1007.96 L380.6,1009.6 L379.36,1011.17 L378.05,1012.7 L376.68,1014.16 L375.24,1015.57 L373.74,1016.91 L372.19,1018.19 L370.59,1019.4 L368.93,1020.54 L367.23,1021.6 L365.48,1022.6 L363.69,1023.51 L361.87,1024.35 L360,1025.11 L358.11,1025.79 L356.19,1026.38 L354.25,1026.9 L352.29,1027.33 L350.31,1027.67 L348.31,1027.93 L346.31,1028.1 L344.3,1028.19 L342.3,1028.19 L340.29,1028.1 L338.29,1027.93 L336.29,1027.67 L334.31,1027.33 L332.35,1026.9 L330.41,1026.38 L328.49,1025.79 L326.6,1025.11 L324.73,1024.35 L322.91,1023.51 L321.12,1022.6 L319.37,1021.6 L317.67,1020.54 L316.01,1019.4 L314.41,1018.19 L312.86,1016.91 L311.36,1015.57 L309.92,1014.16 L308.55,1012.7 L307.24,1011.17 L306,1009.6 L304.82,1007.96 L303.72,1006.29 L302.69,1004.56 L301.74,1002.79 L300.86,1000.98 L300.06,999.14 L299.34,997.26 L298.7,995.36 L298.15,993.42 L297.68,991.47 L297.29,989.5 L296.99,987.51 L296.77,985.51 L296.64,983.51 L296.6,981.5 L296.64,979.49 L296.77,977.49 L296.99,975.49 L297.29,973.5 L297.68,971.53 L298.15,969.58 L298.7,967.64 L299.34,965.74 L300.06,963.86 L300.86,962.02 L301.74,960.21 L302.69,958.44 L303.72,956.71 L304.82,955.04 L306,953.4 L307.24,951.83 L308.55,950.3 L309.92,948.84 L311.36,947.43 L312.86,946.09 L314.41,944.81 L316.01,943.6 L317.67,942.46 L319.37,941.4 L321.12,940.4 L322.91,939.49 L324.73,938.65 L326.6,937.89 L328.49,937.21 L330.41,936.62 L332.35,936.1 L334.31,935.67 L336.29,935.33 L338.29,935.07 L340.29,934.9 L342.3,934.81 L344.3,934.81 L346.31,934.9 L348.31,935.07 L350.31,935.33 L352.29,935.67 L354.25,936.1 L356.19,936.62 L358.11,937.21 L360,937.89 L361.87,938.65 L363.69,939.49 L365.48,940.4 L367.23,941.4 L368.93,942.46 L370.59,943.6 L372.19,944.81 L373.74,946.09 L375.24,947.43 L376.68,948.84 L378.05,950.3 L379.36,951.83 L380.6,953.4 L381.78,955.04 L382.88,956.71 L383.91,958.44 L384.86,960.21 L385.74,962.02 L386.54,963.86 L387.26,965.74 L387.9,967.64 L388.45,969.58 L388.92,971.53 L389.31,973.5 L389.61,975.49 L389.83,977.49 L389.96,979.49 Z" stroke="#333" stroke-width="1.5" fill="none" stroke-linejoin="round"/>
<path d="M293.5,981.5 H340.3 M393.1,981.5 H346.3 M340.8,981.5 h5 M343.3,979 v5 M343.3,1031.3 V984.5" stroke="#5a5a5a" stroke-width="1" fill="none" stroke-dasharray="9 9"/>
<path d="M230.97,835.33 L231.7,834.51 L232.48,833.73 L233.3,833 L234.17,832.32 L235.08,831.7 L236.03,831.14 L237.01,830.65 L238.02,830.21 M242.73,829.08 L243.83,829.01 L244.93,829.01 L246.03,829.08 L247.12,829.21 L248.2,829.42 L249.27,829.7 L250.32,830.04 L251.34,830.44 M255.47,832.97 L256.29,833.7 L257.07,834.48 L257.8,835.3 L258.48,836.17 L259.1,837.08 L259.66,838.03 L260.15,839.01 L260.59,840.02 M261.72,844.73 L261.79,845.83 L261.79,846.93 L261.72,848.03 L261.59,849.12 L261.38,850.2 L261.1,851.27 L260.76,852.32 L260.36,853.34 M257.83,857.47 L257.1,858.29 L256.32,859.07 L255.5,859.8 L254.63,860.48 L253.72,861.1 L252.77,861.66 L251.79,862.15 L250.78,862.59 M246.07,863.72 L244.97,863.79 L243.87,863.79 L242.77,863.72 L241.68,863.59 L240.6,863.38 L239.53,863.1 L238.48,862.76 L237.46,862.36 M233.33,859.83 L232.51,859.1 L231.73,858.32 L231,857.5 L230.32,856.63 L229.7,855.72 L229.14,854.77 L228.65,853.79 L228.21,852.78 M227.08,848.07 L227.01,846.97 L227.01,845.87 L227.08,844.77 L227.21,843.68 L227.42,842.6 L227.7,841.53 L228.04,840.48 L228.44,839.46" stroke="#3c3c3c" stroke-width="1.05" fill="none"/>
<path d="M224.7,846.4 H239.8 M241.6,846.4 H247.2 M249,846.4 H264.1 M244.4,826.7 V841.8 M244.4,843.6 V849.2 M244.4,851 V866.1" stroke="#3c3c3c" stroke-width="1" fill="none"/>
<path d="M330.13,804.46 L330.85,803.64 L331.61,802.87 L332.43,802.15 L333.29,801.48 L334.19,800.87 L335.13,800.32 L336.1,799.83 L337.1,799.4 M341.75,798.28 L342.84,798.21 L343.93,798.21 L345.01,798.28 L346.09,798.41 L347.16,798.62 L348.21,798.89 L349.25,799.22 L350.26,799.63 M354.34,802.13 L355.16,802.85 L355.93,803.61 L356.65,804.43 L357.32,805.29 L357.93,806.19 L358.48,807.13 L358.97,808.1 L359.4,809.1 M360.52,813.75 L360.59,814.84 L360.59,815.93 L360.52,817.01 L360.39,818.09 L360.18,819.16 L359.91,820.21 L359.58,821.25 L359.17,822.26 M356.67,826.34 L355.95,827.16 L355.19,827.93 L354.37,828.65 L353.51,829.32 L352.61,829.93 L351.67,830.48 L350.7,830.97 L349.7,831.4 M345.05,832.52 L343.96,832.59 L342.87,832.59 L341.79,832.52 L340.71,832.39 L339.64,832.18 L338.59,831.91 L337.55,831.58 L336.54,831.17 M332.46,828.67 L331.64,827.95 L330.87,827.19 L330.15,826.37 L329.48,825.51 L328.87,824.61 L328.32,823.67 L327.83,822.7 L327.4,821.7 M326.28,817.05 L326.21,815.96 L326.21,814.87 L326.28,813.79 L326.41,812.71 L326.62,811.64 L326.89,810.59 L327.22,809.55 L327.63,808.54" stroke="#3c3c3c" stroke-width="1.05" fill="none"/>
<path d="M323.9,815.4 H338.8 M340.6,815.4 H346.2 M348,815.4 H362.9 M343.4,795.9 V810.8 M343.4,812.6 V818.2 M343.4,820 V834.9" stroke="#3c3c3c" stroke-width="1" fill="none"/>
<line x1="343.3" y1="687.4" x2="343.3" y2="971.5" stroke="#5a5a5a" stroke-width="1" fill="none"/>
<line x1="422.8" y1="677.3" x2="336.5" y2="827.9" stroke="#5a5a5a" stroke-width="1" fill="none"/>
<path d="M351.93,800.47 L351.63,809.05 L344.69,805.08 Z" fill="#000"/>
<path d="M334.87,830.33 L335.17,821.75 L342.11,825.72 Z" fill="#000"/>
<text transform="translate(385.29 735.08) rotate(-60.25) scale(0.93 1)" text-anchor="start" font-size="19">2x</text>
<g transform="translate(395.73 702.71) rotate(-60.25)"><circle cx="0" cy="0" r="6.5" stroke="#3a3a3a" stroke-width="0.95" fill="none"/><line x1="3.6" y1="-8.9" x2="-3.6" y2="8.1" stroke="#3a3a3a" stroke-width="0.95"/></g>
<text transform="translate(405.73 699.32) rotate(-60.25) scale(1.04 1)" text-anchor="start" font-size="19">32</text>
<line x1="130.2" y1="650.2" x2="130.2" y2="749.2" stroke="#5a5a5a" stroke-width="1" fill="none"/>
<line x1="447.1" y1="650" x2="447.1" y2="749.2" stroke="#5a5a5a" stroke-width="1" fill="none"/>
<line x1="130.3" y1="657.6" x2="447.1" y2="657.6" stroke="#5a5a5a" stroke-width="1" fill="none"/>
<path d="M130.3,657.6 L137.9,653.6 L137.9,661.6 Z" fill="#000"/>
<path d="M447.1,657.6 L439.5,661.6 L439.5,653.6 Z" fill="#000"/>
<text transform="translate(288.7 654) rotate(0) scale(1.04 1)" text-anchor="middle" font-size="19">305</text>
<line x1="130.3" y1="694.2" x2="343.4" y2="694.2" stroke="#5a5a5a" stroke-width="1" fill="none"/>
<path d="M130.3,694.2 L137.9,690.2 L137.9,698.2 Z" fill="#000"/>
<path d="M343.4,694.2 L335.8,698.2 L335.8,690.2 Z" fill="#000"/>
<text transform="translate(236.2 690.5) rotate(0) scale(1.04 1)" text-anchor="middle" font-size="19">205</text>
<line x1="244.4" y1="725.3" x2="244.4" y2="816.1" stroke="#5a5a5a" stroke-width="1" fill="none"/>
<line x1="130.3" y1="732.7" x2="244.4" y2="732.7" stroke="#5a5a5a" stroke-width="1" fill="none"/>
<path d="M130.3,732.7 L137.9,728.7 L137.9,736.7 Z" fill="#000"/>
<path d="M244.4,732.7 L236.8,736.7 L236.8,728.7 Z" fill="#000"/>
<text transform="translate(187.6 729) rotate(0) scale(1.04 1)" text-anchor="middle" font-size="19">110</text>
<line x1="51.9" y1="758.3" x2="121.6" y2="758.3" stroke="#5a5a5a" stroke-width="1" fill="none"/>
<line x1="52" y1="981.5" x2="121.5" y2="981.5" stroke="#5a5a5a" stroke-width="1" fill="none"/>
<line x1="59.3" y1="758.3" x2="59.3" y2="981.5" stroke="#5a5a5a" stroke-width="1" fill="none"/>
<path d="M59.3,758.3 L63.3,765.9 L55.3,765.9 Z" fill="#000"/>
<path d="M59.3,981.5 L55.3,973.9 L63.3,973.9 Z" fill="#000"/>
<text transform="translate(56 870) rotate(-90) scale(1.04 1)" text-anchor="middle" font-size="19">215</text>
<line x1="89.5" y1="846.4" x2="214.2" y2="846.4" stroke="#5a5a5a" stroke-width="1" fill="none"/>
<line x1="97.2" y1="758.3" x2="97.2" y2="846.4" stroke="#5a5a5a" stroke-width="1" fill="none"/>
<path d="M97.2,758.3 L101.2,765.9 L93.2,765.9 Z" fill="#000"/>
<path d="M97.2,846.4 L93.2,838.8 L101.2,838.8 Z" fill="#000"/>
<text transform="translate(94 802.3) rotate(-90) scale(1.04 1)" text-anchor="middle" font-size="19">85</text>
<line x1="374" y1="815" x2="505.7" y2="815" stroke="#5a5a5a" stroke-width="1" fill="none"/>
<line x1="498.4" y1="758.3" x2="498.4" y2="814.9" stroke="#5a5a5a" stroke-width="1" fill="none"/>
<path d="M498.4,758.3 L502.4,765.9 L494.4,765.9 Z" fill="#000"/>
<path d="M498.4,814.9 L494.4,807.3 L502.4,807.3 Z" fill="#000"/>
<text transform="translate(495 786.6) rotate(-90) scale(1.04 1)" text-anchor="middle" font-size="19">55</text>
<line x1="350" y1="856.9" x2="558.4" y2="856.9" stroke="#5a5a5a" stroke-width="1" fill="none"/>
<line x1="550.8" y1="758.3" x2="550.8" y2="856.9" stroke="#5a5a5a" stroke-width="1" fill="none"/>
<path d="M550.8,758.3 L554.8,765.9 L546.8,765.9 Z" fill="#000"/>
<path d="M550.8,856.9 L546.8,849.3 L554.8,849.3 Z" fill="#000"/>
<text transform="translate(547.5 808) rotate(-90) scale(1.04 1)" text-anchor="middle" font-size="19">95</text>
<line x1="456.8" y1="758.3" x2="610.4" y2="758.3" stroke="#5a5a5a" stroke-width="1" fill="none"/>
<line x1="348.4" y1="1116.5" x2="610" y2="1116.5" stroke="#5a5a5a" stroke-width="1" fill="none"/>
<line x1="602.8" y1="758.3" x2="602.8" y2="1116.5" stroke="#5a5a5a" stroke-width="1" fill="none"/>
<path d="M602.8,758.3 L606.8,765.9 L598.8,765.9 Z" fill="#000"/>
<path d="M602.8,1116.5 L598.8,1108.9 L606.8,1108.9 Z" fill="#000"/>
<text transform="translate(600 937.5) rotate(-90) scale(1.04 1)" text-anchor="middle" font-size="19">345</text>
<line x1="130.2" y1="990.5" x2="130.2" y2="1197.6" stroke="#5a5a5a" stroke-width="1" fill="none"/>
<line x1="478.6" y1="992" x2="478.6" y2="1197.6" stroke="#5a5a5a" stroke-width="1" fill="none"/>
<line x1="130.2" y1="1191" x2="478.6" y2="1191" stroke="#5a5a5a" stroke-width="1" fill="none"/>
<path d="M130.2,1191 L137.8,1187 L137.8,1195 Z" fill="#000"/>
<path d="M478.6,1191 L471,1195 L471,1187 Z" fill="#000"/>
<text transform="translate(309.1 1187.1) rotate(0) scale(1.04 1)" text-anchor="middle" font-size="19">335</text>
<path d="M690.5,1187.0 H1261.9 M690.5,1498.5 H1261.9" stroke="#8a8a8a" stroke-width="1.4" fill="none" stroke-dasharray="9.6 4.25" stroke-dashoffset="2.7"/>
<path d="M690.5,1187.0 V1498.5 M1261.9,1187.0 V1498.5" stroke="#8a8a8a" stroke-width="1.4" fill="none" stroke-dasharray="9.6 4.25" stroke-dashoffset="1.7"/>
<path d="M767.4,1307.9 L1115.5,1307.9 L1115.5,1432.1 L774.2,1432.4 Z" stroke="#333" stroke-width="1.5" fill="none" stroke-linejoin="round"/>
<path d="M798.6,1307.9 L805.5,1432.4" stroke="#333" stroke-width="1.5" fill="none" stroke-linejoin="round"/>
<path d="M834.3,1432.4 Q838.3,1433 838.8,1437.5 L840.3,1460.2 L965,1460.2 L966.4,1437.5 Q967,1433 970.4,1432.4" stroke="#333" stroke-width="1.5" fill="none" stroke-linejoin="round"/>
<circle cx="866.5" cy="1373.4" r="10" stroke="#333" stroke-width="1.5" fill="none" stroke-linejoin="round"/>
<path d="M853.5,1373.4 H879.5 M866.5,1360.4 V1386.4" stroke="#5a5a5a" stroke-width="0.8" fill="none" stroke-dasharray="4 2"/>
<circle cx="1058.4" cy="1352.3" r="9.8" stroke="#333" stroke-width="1.5" fill="none" stroke-linejoin="round"/>
<path d="M1045.6,1352.3 H1071.2 M1058.4,1339.5 V1365.1" stroke="#5a5a5a" stroke-width="0.8" fill="none" stroke-dasharray="4 2"/>
<line x1="866.2" y1="1231.3" x2="866.2" y2="1363.4" stroke="#5a5a5a" stroke-width="1" fill="none"/>
<line x1="1058.4" y1="1231" x2="1058.4" y2="1342.5" stroke="#5a5a5a" stroke-width="1" fill="none"/>
<line x1="1115.5" y1="1231" x2="1115.5" y2="1298.4" stroke="#5a5a5a" stroke-width="1" fill="none"/>
<line x1="866.2" y1="1238.9" x2="1058.4" y2="1238.9" stroke="#5a5a5a" stroke-width="1" fill="none"/>
<path d="M866.2,1238.9 L873.8,1234.9 L873.8,1242.9 Z" fill="#000"/>
<path d="M1058.4,1238.9 L1050.8,1242.9 L1050.8,1234.9 Z" fill="#000"/>
<text transform="translate(962.5 1235.6) rotate(0) scale(1.04 1)" text-anchor="middle" font-size="19">185</text>
<line x1="1058.4" y1="1238.9" x2="1115.5" y2="1238.9" stroke="#5a5a5a" stroke-width="1" fill="none"/>
<path d="M1058.4,1238.9 L1066,1234.9 L1066,1242.9 Z" fill="#000"/>
<path d="M1115.5,1238.9 L1107.9,1242.9 L1107.9,1234.9 Z" fill="#000"/>
<text transform="translate(1087 1234.7) rotate(0) scale(1.04 1)" text-anchor="middle" font-size="19">55</text>
<line x1="1068.2" y1="1352.3" x2="1212.8" y2="1352.3" stroke="#5a5a5a" stroke-width="1" fill="none"/>
<line x1="876.5" y1="1373.3" x2="1174.3" y2="1373.3" stroke="#5a5a5a" stroke-width="1" fill="none"/>
<line x1="1124" y1="1432.1" x2="1212.8" y2="1432.1" stroke="#5a5a5a" stroke-width="1" fill="none"/>
<line x1="1205.8" y1="1352.3" x2="1205.8" y2="1432.1" stroke="#5a5a5a" stroke-width="1" fill="none"/>
<path d="M1205.8,1352.3 L1209.8,1359.9 L1201.8,1359.9 Z" fill="#000"/>
<path d="M1205.8,1432.1 L1201.8,1424.5 L1209.8,1424.5 Z" fill="#000"/>
<text transform="translate(1202 1392.5) rotate(-90) scale(1.04 1)" text-anchor="middle" font-size="19">77</text>
<line x1="1166.8" y1="1373.3" x2="1166.8" y2="1432.1" stroke="#5a5a5a" stroke-width="1" fill="none"/>
<path d="M1166.8,1373.3 L1170.8,1380.9 L1162.8,1380.9 Z" fill="#000"/>
<path d="M1166.8,1432.1 L1162.8,1424.5 L1170.8,1424.5 Z" fill="#000"/>
<text transform="translate(1163 1402.1) rotate(-90) scale(1.04 1)" text-anchor="middle" font-size="19">57</text>
</svg></body></html>
